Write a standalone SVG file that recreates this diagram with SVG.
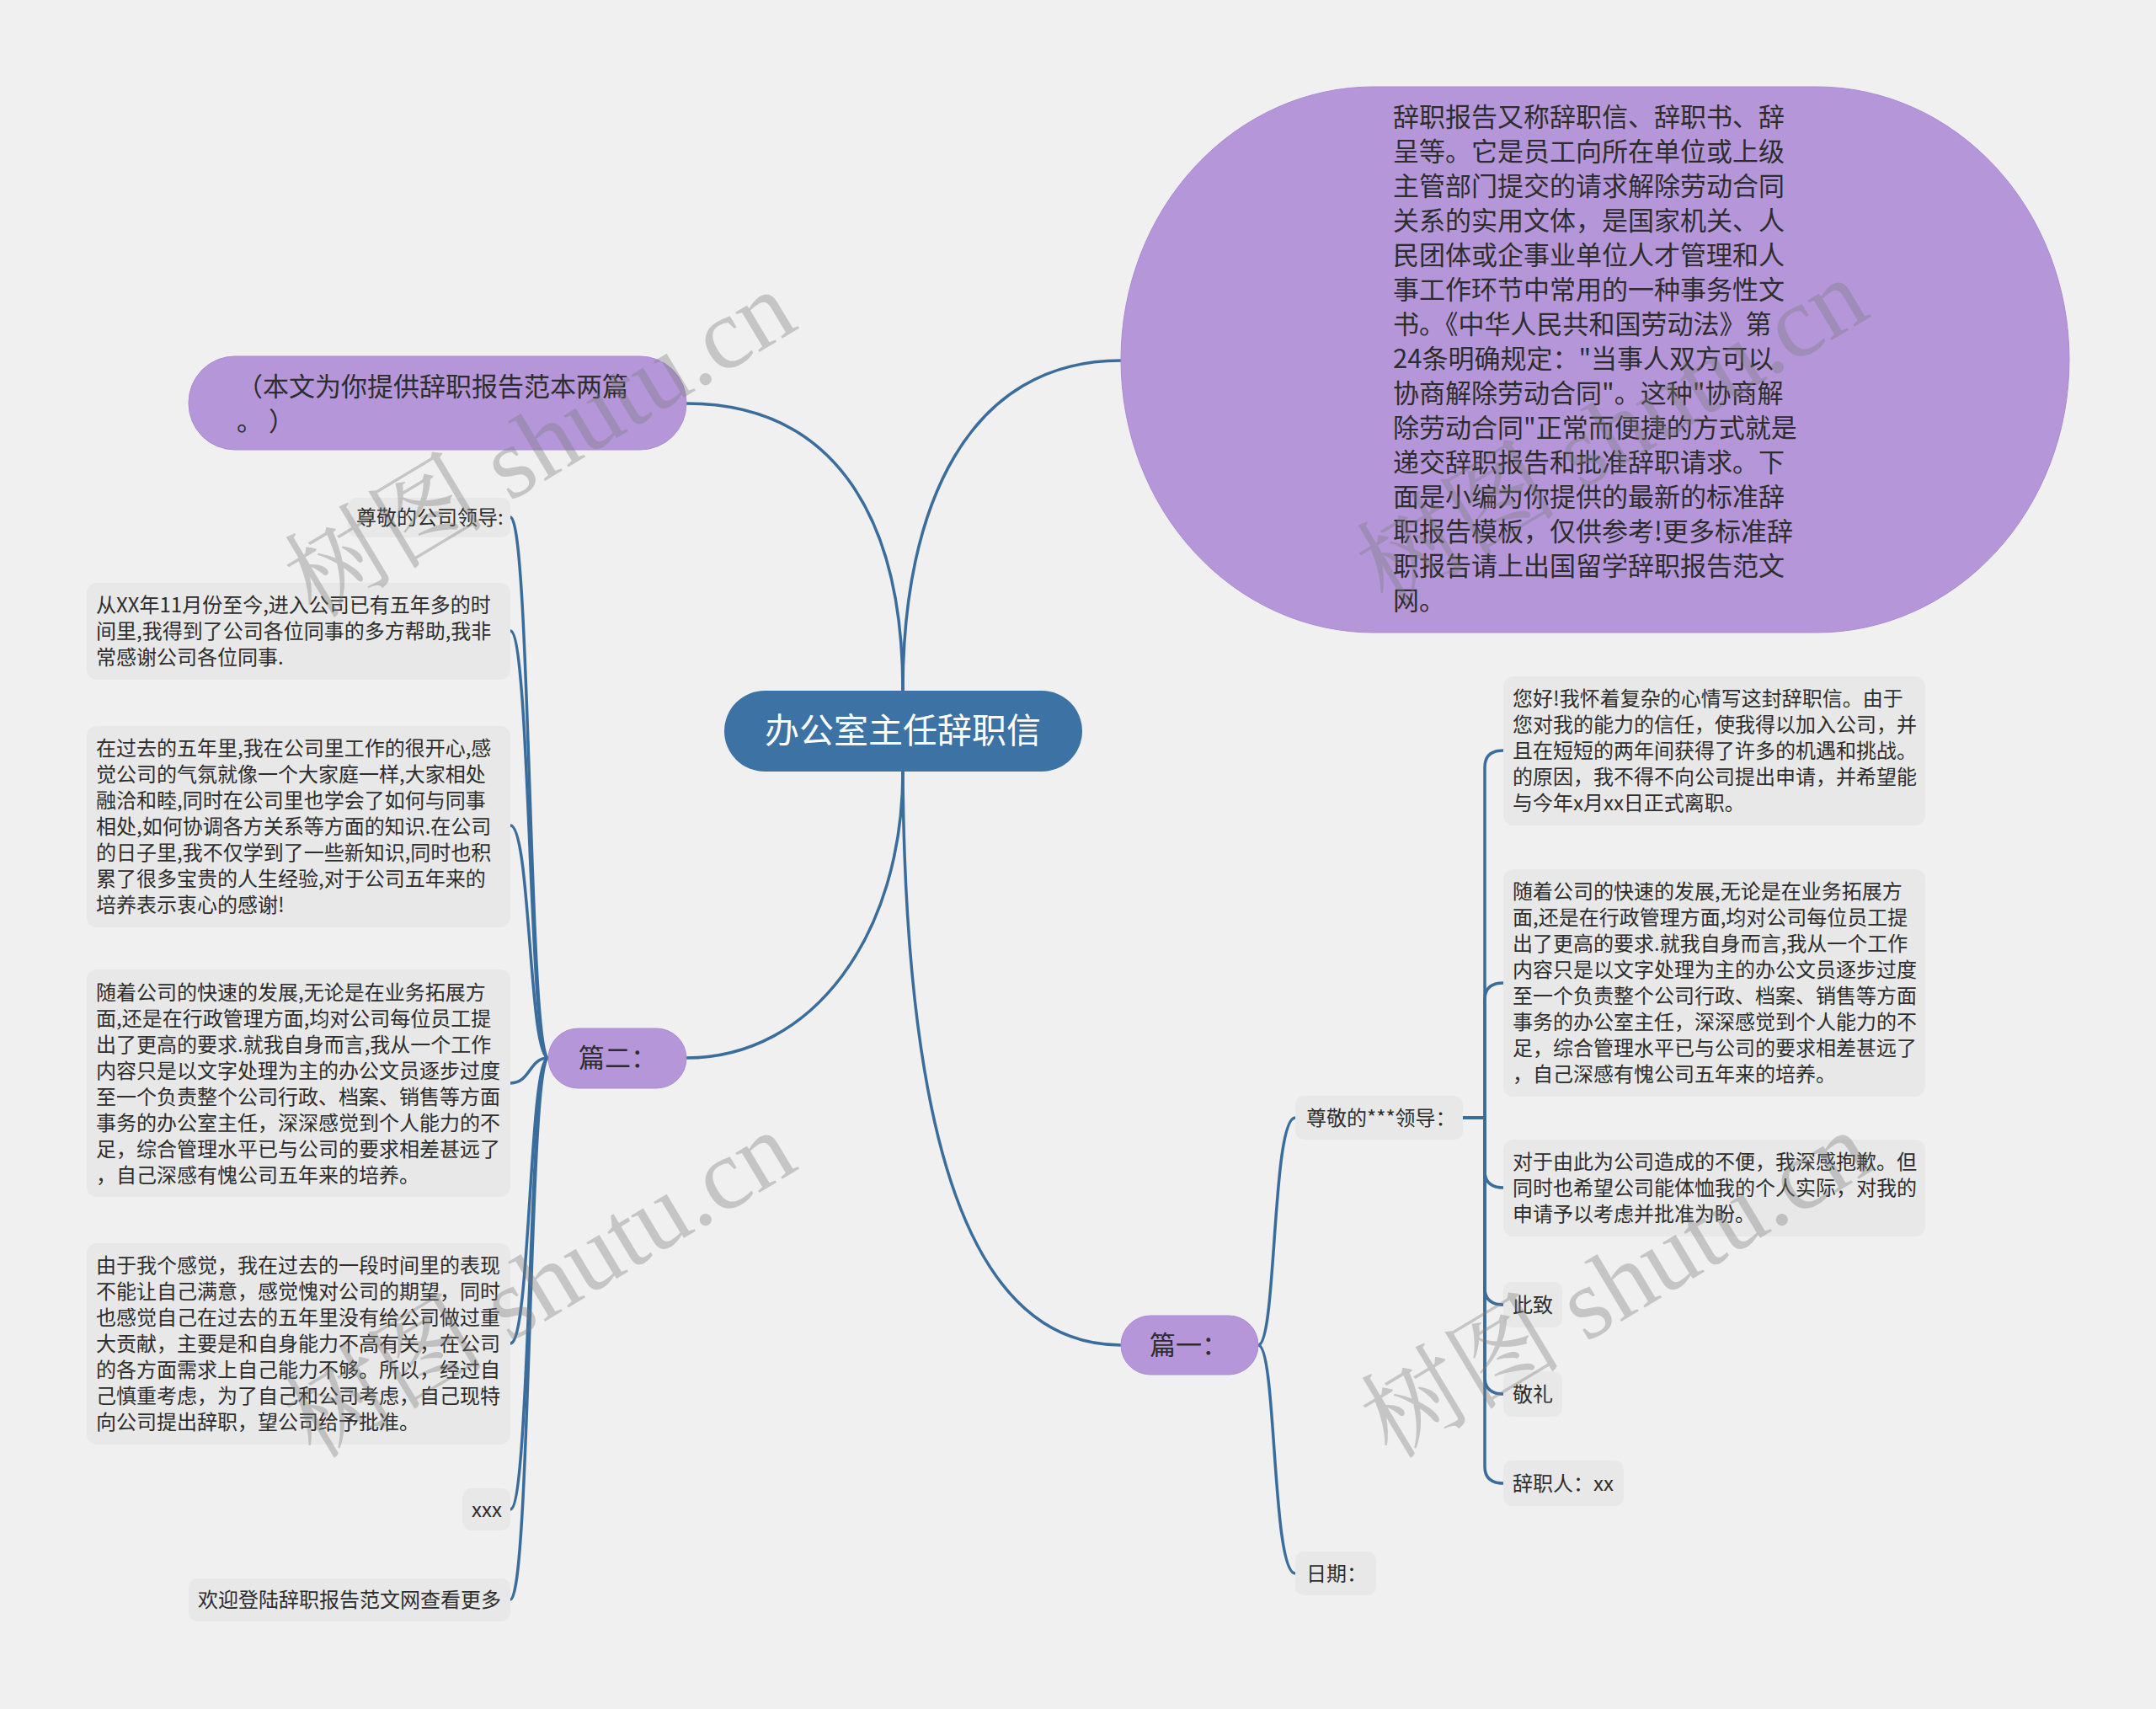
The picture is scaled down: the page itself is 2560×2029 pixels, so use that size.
<svg xmlns="http://www.w3.org/2000/svg" width="2560" height="2029" viewBox="0 0 2560 2029">
<style>
.t{font-family:"Noto Sans CJK SC","Liberation Sans",sans-serif;fill:#2d2d2d}
.s24{font-size:24px}
.s31{font-size:31px}
.box{fill:#e8e8e8}
.pur{fill:#b596d9;stroke:#ab8bd2;stroke-width:1}
.ln{fill:none;stroke:#3a6d9b;stroke-width:3.5;stroke-linecap:round}
.wm{font-family:"Liberation Serif","Noto Serif CJK SC","Noto Sans CJK SC",serif;font-size:120px;fill:#7a7a7a;fill-opacity:0.36}
</style>
<rect width="2560" height="2029" fill="#f0f0f0"/>

<g id="connectors">
  <path class="ln" d="M1072,820 C1072,600 980,479 815,479"/>
  <path class="ln" d="M1072,820 C1072,600 1150,428 1331,428"/>
  <path class="ln" d="M1072,916 C1072,1110 965,1256 815,1256"/>
  <path class="ln" d="M1072,916 C1075,1350 1150,1597 1331,1597"/>
  <path class="ln" d="M651,1256 C628,1256 630,614 606,614"/>
  <path class="ln" d="M651,1256 C628,1256 630,749 606,749"/>
  <path class="ln" d="M651,1256 C628,1256 630,980 606,980"/>
  <path class="ln" d="M651,1256 C628,1256 630,1286 606,1286"/>
  <path class="ln" d="M651,1256 C628,1256 630,1595 606,1595"/>
  <path class="ln" d="M651,1256 C628,1256 630,1792 606,1792"/>
  <path class="ln" d="M651,1256 C628,1256 630,1899 606,1899"/>
  <path class="ln" d="M1494,1597 C1516,1597 1510,1327 1538,1327"/>
  <path class="ln" d="M1494,1597 C1516,1597 1510,1868 1538,1868"/>
  <path class="ln" d="M1737,1327 H1763 V911 Q1763,891 1785,891"/>
  <path class="ln" d="M1737,1327 H1763 V1187 Q1763,1167 1785,1167"/>
  <path class="ln" d="M1737,1327 H1763 V1390 Q1763,1410 1785,1410"/>
  <path class="ln" d="M1737,1327 H1763 V1529 Q1763,1549 1785,1549"/>
  <path class="ln" d="M1737,1327 H1763 V1635 Q1763,1655 1785,1655"/>
  <path class="ln" d="M1737,1327 H1763 V1741 Q1763,1761 1785,1761"/>
</g>

<g id="root">
  <rect x="860" y="820" width="425" height="96" rx="48" fill="#3c72a4"/>
  <text class="t" x="1072" y="882" font-size="41" text-anchor="middle" style="fill:#ffffff">办公室主任辞职信</text>
</g>

<g id="intro">
  <rect class="pur" x="1331" y="103" width="1126" height="648" rx="300" ry="324"/>
  <text class="t s31">
    <tspan x="1654" y="150">辞职报告又称辞职信、辞职书、辞</tspan>
    <tspan x="1654" y="191">呈等。它是员工向所在单位或上级</tspan>
    <tspan x="1654" y="232">主管部门提交的请求解除劳动合同</tspan>
    <tspan x="1654" y="273">关系的实用文体，是国家机关、人</tspan>
    <tspan x="1654" y="314">民团体或企事业单位人才管理和人</tspan>
    <tspan x="1654" y="355">事工作环节中常用的一种事务性文</tspan>
    <tspan x="1654" y="396">书。《中华人民共和国劳动法》第</tspan>
    <tspan x="1654" y="437">24条明确规定："当事人双方可以</tspan>
    <tspan x="1654" y="478">协商解除劳动合同"。这种"协商解</tspan>
    <tspan x="1654" y="519">除劳动合同"正常而便捷的方式就是</tspan>
    <tspan x="1654" y="560">递交辞职报告和批准辞职请求。下</tspan>
    <tspan x="1654" y="601">面是小编为你提供的最新的标准辞</tspan>
    <tspan x="1654" y="642">职报告模板，仅供参考!更多标准辞</tspan>
    <tspan x="1654" y="683">职报告请上出国留学辞职报告范文</tspan>
    <tspan x="1654" y="724">网。</tspan>
  </text>
</g>

<g id="note">
  <rect class="pur" x="224" y="423" width="591" height="111" rx="55"/>
  <text class="t s31">
    <tspan x="281" y="470">（本文为你提供辞职报告范本两篇</tspan>
    <tspan x="281" y="511">。 ）</tspan>
  </text>
</g>

<g id="part2">
  <rect class="pur" x="651" y="1221" width="164" height="71" rx="35.5"/>
  <text class="t s31" x="687" y="1267">篇二：</text>
</g>

<g id="part1">
  <rect class="pur" x="1331" y="1562" width="163" height="70" rx="35"/>
  <text class="t s31" x="1365" y="1608">篇一：</text>
</g>

<g id="p2-greeting">
  <rect class="box" x="413" y="591" width="193" height="47" rx="10"/>
  <text class="t s24" x="423" y="623">尊敬的公司领导:</text>
</g>
<g id="p2-para1">
  <rect class="box" x="103" y="692" width="503" height="115" rx="12"/>
  <text class="t s24">
    <tspan x="114" y="727">从XX年11月份至今,进入公司已有五年多的时</tspan>
    <tspan x="114" y="758">间里,我得到了公司各位同事的多方帮助,我非</tspan>
    <tspan x="114" y="789">常感谢公司各位同事.</tspan>
  </text>
</g>
<g id="p2-para2">
  <rect class="box" x="103" y="862" width="503" height="239" rx="12"/>
  <text class="t s24">
    <tspan x="114" y="897">在过去的五年里,我在公司里工作的很开心,感</tspan>
    <tspan x="114" y="928">觉公司的气氛就像一个大家庭一样,大家相处</tspan>
    <tspan x="114" y="959">融洽和睦,同时在公司里也学会了如何与同事</tspan>
    <tspan x="114" y="990">相处,如何协调各方关系等方面的知识.在公司</tspan>
    <tspan x="114" y="1021">的日子里,我不仅学到了一些新知识,同时也积</tspan>
    <tspan x="114" y="1052">累了很多宝贵的人生经验,对于公司五年来的</tspan>
    <tspan x="114" y="1083">培养表示衷心的感谢!</tspan>
  </text>
</g>
<g id="p2-para3">
  <rect class="box" x="103" y="1151" width="503" height="270" rx="12"/>
  <text class="t s24">
    <tspan x="114" y="1187">随着公司的快速的发展,无论是在业务拓展方</tspan>
    <tspan x="114" y="1218">面,还是在行政管理方面,均对公司每位员工提</tspan>
    <tspan x="114" y="1249">出了更高的要求.就我自身而言,我从一个工作</tspan>
    <tspan x="114" y="1280">内容只是以文字处理为主的办公文员逐步过度</tspan>
    <tspan x="114" y="1311">至一个负责整个公司行政、档案、销售等方面</tspan>
    <tspan x="114" y="1342">事务的办公室主任，深深感觉到个人能力的不</tspan>
    <tspan x="114" y="1373">足，综合管理水平已与公司的要求相差甚远了</tspan>
    <tspan x="114" y="1404">，自己深感有愧公司五年来的培养。</tspan>
  </text>
</g>
<g id="p2-para4">
  <rect class="box" x="103" y="1476" width="503" height="239" rx="12"/>
  <text class="t s24">
    <tspan x="114" y="1511">由于我个感觉，我在过去的一段时间里的表现</tspan>
    <tspan x="114" y="1542">不能让自己满意，感觉愧对公司的期望，同时</tspan>
    <tspan x="114" y="1573">也感觉自己在过去的五年里没有给公司做过重</tspan>
    <tspan x="114" y="1604">大贡献，主要是和自身能力不高有关，在公司</tspan>
    <tspan x="114" y="1635">的各方面需求上自己能力不够。所以，经过自</tspan>
    <tspan x="114" y="1666">己慎重考虑，为了自己和公司考虑，自己现特</tspan>
    <tspan x="114" y="1697">向公司提出辞职，望公司给予批准。</tspan>
  </text>
</g>
<g id="p2-sign">
  <rect class="box" x="549" y="1767" width="57" height="50" rx="10"/>
  <text class="t s24" x="560" y="1801">xxx</text>
</g>
<g id="p2-more">
  <rect class="box" x="224" y="1874" width="382" height="51" rx="10"/>
  <text class="t s24" x="235" y="1908">欢迎登陆辞职报告范文网查看更多</text>
</g>

<g id="p1-greeting">
  <rect class="box" x="1538" y="1301" width="199" height="52" rx="10"/>
  <text class="t s24" x="1551" y="1336">尊敬的***领导：</text>
</g>
<g id="p1-date">
  <rect class="box" x="1538" y="1842" width="96" height="52" rx="10"/>
  <text class="t s24" x="1551" y="1877">日期：</text>
</g>
<g id="p1-para1">
  <rect class="box" x="1785" y="803" width="501" height="177" rx="12"/>
  <text class="t s24">
    <tspan x="1796" y="838">您好!我怀着复杂的心情写这封辞职信。由于</tspan>
    <tspan x="1796" y="869">您对我的能力的信任，使我得以加入公司，并</tspan>
    <tspan x="1796" y="900">且在短短的两年间获得了许多的机遇和挑战。</tspan>
    <tspan x="1796" y="931">的原因，我不得不向公司提出申请，并希望能</tspan>
    <tspan x="1796" y="962">与今年x月xx日正式离职。</tspan>
  </text>
</g>
<g id="p1-para2">
  <rect class="box" x="1785" y="1032" width="501" height="270" rx="12"/>
  <text class="t s24">
    <tspan x="1796" y="1067">随着公司的快速的发展,无论是在业务拓展方</tspan>
    <tspan x="1796" y="1098">面,还是在行政管理方面,均对公司每位员工提</tspan>
    <tspan x="1796" y="1129">出了更高的要求.就我自身而言,我从一个工作</tspan>
    <tspan x="1796" y="1160">内容只是以文字处理为主的办公文员逐步过度</tspan>
    <tspan x="1796" y="1191">至一个负责整个公司行政、档案、销售等方面</tspan>
    <tspan x="1796" y="1222">事务的办公室主任，深深感觉到个人能力的不</tspan>
    <tspan x="1796" y="1253">足，综合管理水平已与公司的要求相差甚远了</tspan>
    <tspan x="1796" y="1284">，自己深感有愧公司五年来的培养。</tspan>
  </text>
</g>
<g id="p1-para3">
  <rect class="box" x="1785" y="1353" width="501" height="115" rx="12"/>
  <text class="t s24">
    <tspan x="1796" y="1388">对于由此为公司造成的不便，我深感抱歉。但</tspan>
    <tspan x="1796" y="1419">同时也希望公司能体恤我的个人实际，对我的</tspan>
    <tspan x="1796" y="1450">申请予以考虑并批准为盼。</tspan>
  </text>
</g>
<g id="p1-regards1">
  <rect class="box" x="1785" y="1522" width="70" height="54" rx="10"/>
  <text class="t s24" x="1796" y="1558">此致</text>
</g>
<g id="p1-regards2">
  <rect class="box" x="1785" y="1628" width="70" height="54" rx="10"/>
  <text class="t s24" x="1796" y="1664">敬礼</text>
</g>
<g id="p1-sign">
  <rect class="box" x="1785" y="1734" width="143" height="54" rx="10"/>
  <text class="t s24" x="1796" y="1770">辞职人：xx</text>
</g>

<g id="watermark">
  <text class="wm" text-anchor="middle" transform="translate(662,562) rotate(-31)">树图 shutu.cn</text>
  <text class="wm" text-anchor="middle" transform="translate(1935,548) rotate(-31)">树图 shutu.cn</text>
  <text class="wm" text-anchor="middle" transform="translate(662,1560) rotate(-31)">树图 shutu.cn</text>
  <text class="wm" text-anchor="middle" transform="translate(1940,1560) rotate(-31)">树图 shutu.cn</text>
</g>
</svg>
